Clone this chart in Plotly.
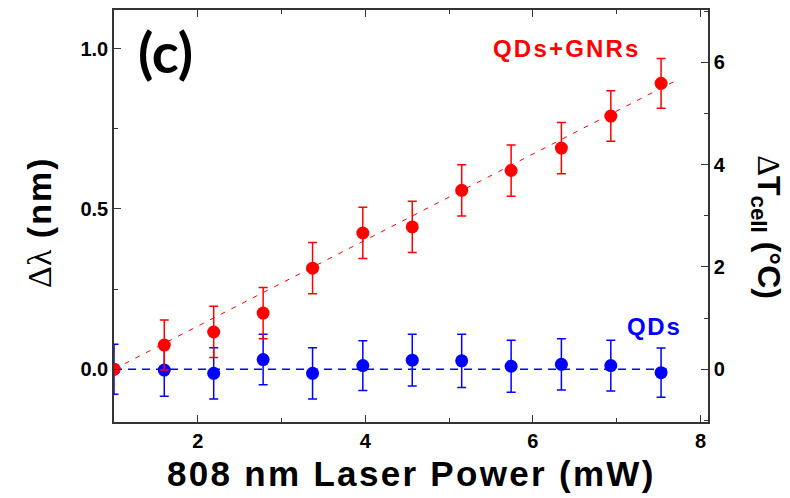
import plotly.graph_objects as go

# ---- data ----
power = [1.0, 1.6, 2.19, 2.78, 3.37, 3.97, 4.56, 5.15, 5.74, 6.34, 6.93, 7.53]
qd_gnr = [0.0, 0.075, 0.116, 0.175, 0.315, 0.425, 0.444, 0.558, 0.62, 0.69, 0.79, 0.892]
qd_gnr_err = [0.0, 0.078, 0.08, 0.08, 0.08, 0.08, 0.08, 0.08, 0.08, 0.08, 0.079, 0.078]
qd = [0.0, -0.003, -0.013, 0.03, -0.013, 0.011, 0.028, 0.026, 0.009, 0.015, 0.011, -0.011]
qd_err = [0.078, 0.082, 0.08, 0.079, 0.08, 0.078, 0.081, 0.083, 0.081, 0.08, 0.079, 0.077]

fit_red_x = [1.0, 7.68]
fit_red_y = [0.0, 0.897]
fit_blue_x = [1.0, 7.6]
fit_blue_y = [0.0, 0.0]

x_ticks = [2, 4, 6, 8]
y_ticks = [0.0, 0.5, 1.0]
y2_ticks = [0, 2, 4, 6]

nm_to_degC = 6.265
y_range = [-0.165, 1.121]

RED = "#ff0000"
BLUE = "#0000ff"
AXC = "#333333"
TICKFONT = dict(family="Liberation Sans Narrow, Arial Narrow, Liberation Sans, Arial", size=20,
                color="black", weight="bold")

fig = go.Figure()

fig.add_trace(go.Scatter(x=fit_blue_x, y=fit_blue_y, mode="lines",
                         line=dict(color=BLUE, width=1.5, dash="8px,6px"),
                         hoverinfo="skip", showlegend=False))
fig.add_trace(go.Scatter(x=fit_red_x, y=fit_red_y, mode="lines",
                         line=dict(color=RED, width=1.0, dash="5px,7px"),
                         hoverinfo="skip", showlegend=False))
fig.add_trace(go.Scatter(x=power, y=qd, mode="markers", name="QDs",
                         marker=dict(color=BLUE, size=13),
                         error_y=dict(type="data", array=qd_err, color=BLUE,
                                      thickness=1.5, width=4.5),
                         showlegend=False))
fig.add_trace(go.Scatter(x=power, y=qd_gnr, mode="markers", name="QDs+GNRs",
                         marker=dict(color=RED, size=13),
                         error_y=dict(type="data", array=qd_gnr_err, color=RED,
                                      thickness=1.5, width=4.5),
                         showlegend=False))
# temperature axis companion (invisible)
fig.add_trace(go.Scatter(x=power, y=[v * nm_to_degC for v in qd_gnr], yaxis="y2",
                         mode="markers", marker=dict(opacity=0), hoverinfo="skip",
                         showlegend=False))

fig.update_layout(
    width=790, height=498,
    margin=dict(l=114, r=82, t=8, b=76),
    paper_bgcolor="white", plot_bgcolor="white",
    xaxis=dict(range=[1.0, 8.09], tickvals=x_ticks, ticks="inside", ticklen=7,
               tickwidth=1.3, tickcolor=AXC, showline=True, linecolor=AXC,
               linewidth=1.5, mirror="ticks", showgrid=False, zeroline=False,
               tickfont=TICKFONT,
               minor=dict(dtick=1, ticks="inside", ticklen=4, tickcolor=AXC,
                          showgrid=False)),
    yaxis=dict(range=y_range, tickvals=y_ticks, tickformat=".1f", ticks="inside",
               ticklen=7, tickwidth=1.3, tickcolor=AXC, showline=True,
               linecolor=AXC, linewidth=1.5, showgrid=False, zeroline=False,
               tickfont=TICKFONT,
               minor=dict(dtick=0.25, ticks="inside", ticklen=4, tickcolor=AXC,
                          showgrid=False)),
    yaxis2=dict(range=[y_range[0] * nm_to_degC, y_range[1] * nm_to_degC],
                overlaying="y", side="right", tickvals=y2_ticks, ticks="inside",
                ticklen=7, tickwidth=1.3, tickcolor=AXC, showline=True,
                linecolor=AXC, linewidth=1.5, showgrid=False, zeroline=False,
                tickfont=TICKFONT,
                minor=dict(dtick=1, ticks="inside", ticklen=4, tickcolor=AXC,
                           showgrid=False)),
)

SANS = "Liberation Sans, Arial"
ann = []
ann.append(dict(text="<span style='letter-spacing:2.3px'>808 nm Laser Power (mW)</span>",
                x=0.5, y=-0.1256, font=dict(family=SANS, size=35, color="black", weight="bold")))
ann.append(dict(text="<span style='font-family:Liberation Serif;font-weight:normal'>Δλ</span>"
                     "<span style='letter-spacing:2px'> (nm)</span>",
                x=-0.1263, y=0.4855, textangle=-90,
                font=dict(family=SANS, size=34, color="black", weight="bold")))
ann.append(dict(text="<span style='font-family:Liberation Serif;font-weight:normal'>Δ</span>T"
                     "<sub>cell</sub> (°C)",
                x=1.099, y=0.473, textangle=90,
                font=dict(family=SANS, size=32, color="black", weight="bold")))
ann.append(dict(text="(c)", x=0.0859, y=0.8986,
                font=dict(family="Lato, Liberation Sans", size=56, color="black", weight="bold")))
ann.append(dict(text="<span style='letter-spacing:2.2px'>QDs+GNRs</span>", x=0.7626, y=0.9058,
                font=dict(family=SANS, size=24, color=RED, weight="bold")))
ann.append(dict(text="<span style='letter-spacing:1.7px'>QDs</span>", x=0.9091, y=0.2307,
                font=dict(family=SANS, size=24, color=BLUE, weight="bold")))
for a in ann:
    a.update(xref="paper", yref="paper", showarrow=False, xanchor="center", yanchor="middle")
fig.update_layout(annotations=ann)

fig.write_html("out.html")
